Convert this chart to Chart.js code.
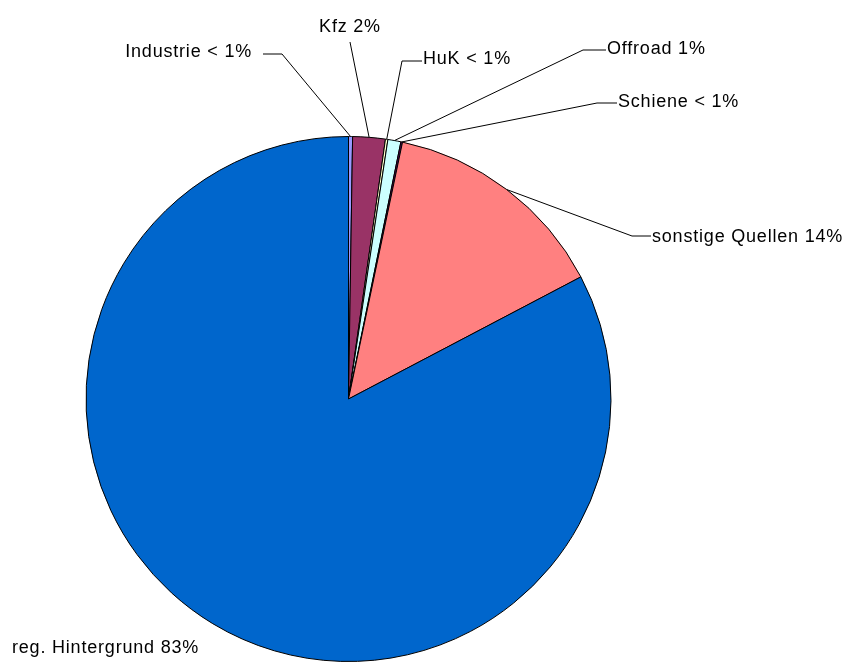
<!DOCTYPE html>
<html>
<head>
<meta charset="utf-8">
<title>Anteile der Quellgruppen</title>
<script src="https://cdn.jsdelivr.net/npm/chart.js@4/dist/chart.umd.min.js"></script>
<style>
  html, body { margin: 0; padding: 0; background: #fff; }
  #chart { display: block; }
</style>
</head>
<body>
<canvas id="chart" width="858" height="662"></canvas>
<script>
// source groups, clockwise from 12 o'clock
const sources = ["Industrie", "Kfz", "HuK", "Offroad", "Schiene", "sonstige Quellen", "reg. Hintergrund"];
const shares = [0.25, 2.0, 0.15, 0.8, 0.1, 14.0, 82.7];
const sliceColors = ["#9999FF", "#993366", "#FFFFCC", "#CCFFFF", "#660066", "#FF8080", "#0066CC"];

// where each label sits; lx/ly = start of leader line, ex = end of its short horizontal piece
const labelLayout = [
  { x: 252, y: 52, align: "right", lx: 263, ly: 54, ex: 282 },
  { x: 350, y: 27, align: "center", lx: 350, ly: 42, ex: 350 },
  { x: 423, y: 59, align: "left", lx: 422, ly: 61, ex: 402 },
  { x: 607, y: 49, align: "left", lx: 606, ly: 50, ex: 583 },
  { x: 618, y: 102, align: "left", lx: 617, ly: 103, ex: 597 },
  { x: 652, y: 237, align: "left", lx: 651, ly: 236, ex: 632 },
  { x: 12, y: 648, align: "left", lx: null }
];

const pctText = (v) => (v < 0.5 ? " < 1%" : " " + Math.round(v) + "%");

// labels with leader lines, drawn after the slices
const leaderLabels = {
  id: "leaderLabels",
  afterDatasetsDraw(chart) {
    const ctx = chart.ctx;
    const arcs = chart.getDatasetMeta(0).data;
    ctx.save();
    ctx.font = "18px 'Liberation Sans', Arial, sans-serif";
    ctx.letterSpacing = "0.8px";
    ctx.fillStyle = "#000";
    ctx.strokeStyle = "#000";
    ctx.lineWidth = 1;
    ctx.textBaseline = "middle";
    arcs.forEach((arc, i) => {
      const pos = labelLayout[i];
      if (pos.lx !== null) {
        const p = arc.getProps(["x", "y", "startAngle", "endAngle", "outerRadius"], true);
        const mid = (p.startAngle + p.endAngle) / 2;
        const px = p.x + Math.cos(mid) * p.outerRadius;
        const py = p.y + Math.sin(mid) * p.outerRadius;
        ctx.beginPath();
        ctx.moveTo(pos.lx, pos.ly);
        ctx.lineTo(pos.ex, pos.ly);
        ctx.lineTo(px, py);
        ctx.stroke();
      }
      ctx.textAlign = pos.align;
      ctx.fillText(sources[i] + pctText(shares[i]), pos.x, pos.y);
    });
    ctx.restore();
  }
};

new Chart(document.getElementById("chart"), {
  type: "pie",
  data: {
    labels: sources,
    datasets: [
      {
        data: shares,
        backgroundColor: sliceColors,
        borderColor: "#000",
        borderWidth: 1
      }
    ]
  },
  options: {
    responsive: false,
    animation: false,
    layout: { padding: { left: 85, right: 246, top: 136, bottom: 0 } },
    plugins: {
      legend: { display: false },
      tooltip: { enabled: false }
    }
  },
  plugins: [leaderLabels]
});
</script>
</body>
</html>
